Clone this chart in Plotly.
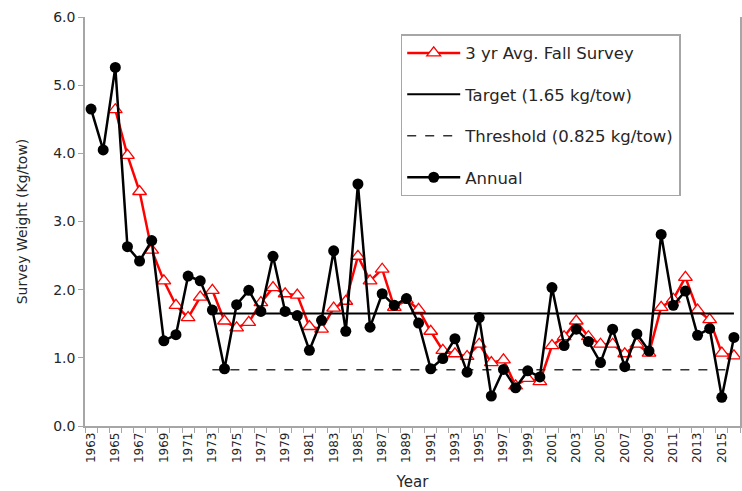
import plotly.graph_objects as go

years = list(range(1963, 2017))
annual = [4.65, 4.05, 5.26, 2.63, 2.42, 2.72, 1.25, 1.34, 2.20, 2.13,
          1.70, 0.84, 1.78, 1.99, 1.68, 2.49, 1.68, 1.62, 1.11, 1.55,
          2.57, 1.39, 3.55, 1.45, 1.94, 1.77, 1.87, 1.51, 0.84, 0.99,
          1.28, 0.79, 1.59, 0.44, 0.83, 0.56, 0.81, 0.72, 2.03, 1.18,
          1.42, 1.24, 0.93, 1.42, 0.87, 1.35, 1.10, 2.81, 1.77, 1.98,
          1.33, 1.43, 0.42, 1.30]
avg_years = list(range(1965, 2017))
avg3 = [4.64, 3.97, 3.44, 2.58, 2.13, 1.77, 1.59, 1.89, 1.99, 1.54,
        1.44, 1.52, 1.81, 2.03, 1.94, 1.92, 1.46, 1.42, 1.73, 1.83,
        2.49, 2.13, 2.30, 1.74, 1.85, 1.71, 1.39, 1.11, 1.06, 1.02,
        1.20, 0.93, 0.97, 0.59, 0.70, 0.65, 1.18, 1.31, 1.54, 1.31,
        1.20, 1.20, 1.06, 1.20, 1.07, 1.74, 1.86, 2.18, 1.70, 1.56,
        1.07, 1.03]
ref_years = [1973, 2016]
target = [1.65, 1.65]
threshold = [0.825, 0.825]
label_years = list(range(1963, 2017, 2))
tick_bounds = [y - 0.5 for y in range(1963, 2018)]

FONT = "DejaVu Sans"
TXT = "#262626"

fig = go.Figure()
fig.add_trace(go.Scatter(x=avg_years, y=avg3, name="3 yr Avg. Fall Survey",
                         mode="lines+markers", legendgroup="a",
                         line=dict(color="#ff0000", width=2.5),
                         marker=dict(symbol="triangle-up", size=12, color="white",
                                     line=dict(color="#ff0000", width=1.3))))
fig.add_trace(go.Scatter(x=ref_years, y=target, name="Target (1.65 kg/tow)",
                         mode="lines", legendgroup="b",
                         line=dict(color="black", width=2)))
fig.add_trace(go.Scatter(x=ref_years, y=threshold, name="Threshold (0.825 kg/tow)",
                         mode="lines", legendgroup="c",
                         line=dict(color="#333333", width=1.5, dash="dash")))
fig.add_trace(go.Scatter(x=years, y=annual, name="Annual",
                         mode="lines+markers", legendgroup="d",
                         line=dict(color="black", width=2.5),
                         marker=dict(symbol="circle", size=11, color="black")))
# invisible trace for the tick-mark axis
fig.add_trace(go.Scatter(x=[years[0]], y=[0], xaxis="x2", showlegend=False,
                         mode="markers", marker=dict(opacity=0), hoverinfo="skip"))

fig.update_layout(
    width=742, height=491,
    margin=dict(l=85, r=0, t=17, b=65),
    paper_bgcolor="white", plot_bgcolor="white",
    font=dict(family=FONT, color=TXT),
    showlegend=True,
    legend=dict(x=0.482, y=0.958, xanchor="left", yanchor="top",
                bordercolor="#a6a6a6", borderwidth=1.5, bgcolor="white",
                font=dict(family=FONT, size=16.5, color=TXT),
                tracegroupgap=17, itemwidth=53),
    xaxis=dict(range=[1962.5, 2016.5], tickmode="array", tickvals=label_years,
               ticktext=[str(y) for y in label_years], tickangle=-90,
               tickfont=dict(size=12, color=TXT), ticks="", showgrid=False,
               zeroline=False, showline=True, linecolor="#a6a6a6", linewidth=1.5,
               title=dict(text="Year", font=dict(size=15, color=TXT), standoff=15)),
    xaxis2=dict(range=[1962.5, 2016.5], overlaying="x", anchor="y", side="bottom",
                tickmode="array", tickvals=tick_bounds, showticklabels=False,
                ticks="outside", ticklen=6, tickcolor="#a6a6a6", tickwidth=1,
                showgrid=False, zeroline=False, showline=False),
    yaxis=dict(range=[0, 6], dtick=1, tickformat=".1f", ticks="outside", ticklen=5,
               tickcolor="#a6a6a6", tickfont=dict(size=14, color=TXT),
               showgrid=False, zeroline=False, showline=True, linecolor="#a6a6a6",
               linewidth=1.5, mirror=True,
               title=dict(text="Survey Weight (Kg/tow)", font=dict(size=14, color=TXT), standoff=22)),
)

fig.write_html("out.html", config={"displayModeBar": False},
               post_script="document.body.style.margin='0';")
